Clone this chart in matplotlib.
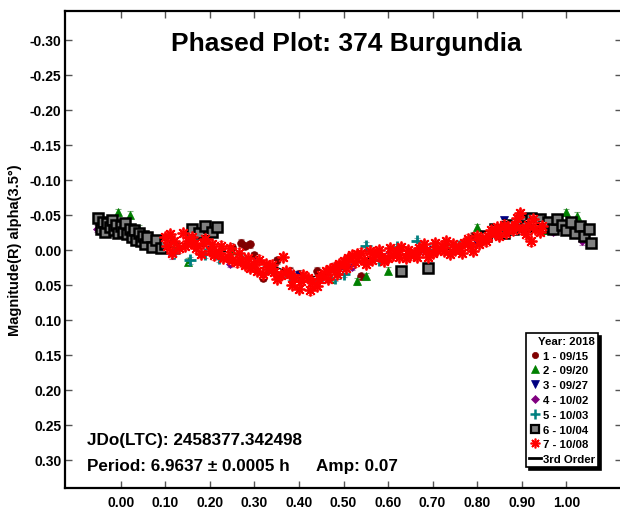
import matplotlib
matplotlib.use("Agg")
import matplotlib.pyplot as plt
from matplotlib.lines import Line2D

plt.rcParams['font.family'] = ['Liberation Sans', 'DejaVu Sans']
plt.rcParams['font.weight'] = 'bold'

# ---------------- data ----------------
x_ticks = [0.0, 0.1, 0.2, 0.3, 0.4, 0.5, 0.6, 0.7, 0.8, 0.9, 1.0]
x_labels = ["0.00", "0.10", "0.20", "0.30", "0.40", "0.50", "0.60", "0.70", "0.80", "0.90", "1.00"]
y_ticks = [-0.30, -0.25, -0.20, -0.15, -0.10, -0.05, 0.0, 0.05, 0.10, 0.15, 0.20, 0.25, 0.30]
y_labels = ["-0.30", "-0.25", "-0.20", "-0.15", "-0.10", "-0.05", "0.00", "0.05", "0.10", "0.15", "0.20", "0.25", "0.30"]

labels = ["1 - 09/15", "2 - 09/20", "3 - 09/27", "4 - 10/02", "5 - 10/03", "6 - 10/04", "7 - 10/08"]

# session 1 (09/15)
ph1 = [0.25, 0.27, 0.28, 0.29, 0.30, 0.32, 0.34, 0.35, 0.38, 0.40, 0.44, 0.48, 0.52, 0.54, 0.58, 0.62, 0.66, 0.70, 0.74, 0.79]
mg1 = [-0.004, -0.010, -0.006, -0.008, 0.008, 0.040, 0.024, 0.015, 0.030, 0.034, 0.030, 0.024, 0.020, 0.038, 0.010, 0.004, 0.006, -0.002, 0.002, -0.020]
# session 2 (09/20)
ph2 = [-0.03, -0.005, 0.02, 0.04, 0.08, 0.12, 0.15, 0.25, 0.33, 0.40, 0.47, 0.53, 0.55, 0.60, 0.73, 0.80, 0.85, 0.90, 0.95, 0.98, 1.00, 1.025, 1.04]
mg2 = [-0.036, -0.054, -0.050, -0.030, -0.014, -0.004, 0.017, 0.002, 0.028, 0.040, 0.042, 0.045, 0.038, 0.030, -0.009, -0.032, -0.020, -0.038, -0.028, -0.040, -0.054, -0.049, -0.032]
# session 3 (09/27)
ph3 = [-0.04, 0.00, 0.06, 0.10, 0.20, 0.30, 0.40, 0.50, 0.60, 0.70, 0.80, 0.86, 0.92, 0.98, 1.04]
mg3 = [-0.032, -0.028, -0.020, -0.010, 0.000, 0.018, 0.036, 0.030, 0.010, 0.000, -0.010, -0.042, -0.036, -0.032, -0.024]
# session 4 (10/02)
ph4 = [-0.053, -0.03, 0.006, 0.04, 0.08, 0.115, 0.18, 0.245, 0.30, 0.38, 0.45, 0.52, 0.60, 0.68, 0.75, 0.82, 0.90, 0.97, 1.02, 1.036]
mg4 = [-0.030, -0.026, -0.023, -0.026, -0.010, 0.008, 0.006, 0.020, 0.018, 0.034, 0.040, 0.024, 0.006, 0.002, -0.004, -0.016, -0.028, -0.026, -0.022, -0.012]
# session 5 (10/03)
ph5 = [0.03, 0.07, 0.12, 0.155, 0.19, 0.22, 0.27, 0.33, 0.38, 0.44, 0.48, 0.50, 0.55, 0.58, 0.62, 0.665, 0.70, 0.76, 0.84]
mg5 = [-0.020, -0.010, 0.004, 0.015, 0.006, 0.012, 0.012, 0.024, 0.038, 0.046, 0.040, 0.034, -0.006, 0.014, -0.004, -0.012, -0.002, -0.006, -0.024]
# session 6 (10/04)
ph6 = [-0.050, -0.045, -0.040, -0.035, -0.030, -0.025, -0.020, -0.015, -0.010, -0.005, 0.000, 0.005, 0.010, 0.015,
       0.020, 0.025, 0.030, 0.035, 0.040, 0.045, 0.050, 0.055, 0.060, 0.070, 0.080, 0.090, 0.100,
       0.160, 0.175, 0.190, 0.205, 0.215, 0.630, 0.690,
       0.820, 0.840, 0.860, 0.870, 0.880, 0.900, 0.910, 0.920, 0.930, 0.940, 0.950, 0.960, 0.970,
       0.980, 0.990, 1.000, 1.010, 1.020, 1.030, 1.040, 1.050, 1.055]
mg6 = [-0.046, -0.030, -0.040, -0.026, -0.038, -0.032, -0.042, -0.028, -0.036, -0.024, -0.034, -0.026, -0.038, -0.022,
       -0.030, -0.018, -0.028, -0.014, -0.024, -0.012, -0.020, -0.008, -0.018, -0.004, -0.014, -0.002, -0.008,
       -0.030, -0.024, -0.034, -0.026, -0.032, 0.030, 0.026,
       -0.020, -0.030, -0.024, -0.036, -0.030, -0.042, -0.034, -0.046, -0.038, -0.044, -0.032, -0.040, -0.030,
       -0.044, -0.036, -0.028, -0.040, -0.024, -0.034, -0.020, -0.030, -0.010]
# session 7 (10/08)
ph7 = [0.100, 0.105, 0.110, 0.115, 0.120, 0.130, 0.140, 0.145, 0.150, 0.160, 0.165, 0.170, 0.180, 0.185, 0.190,
       0.200, 0.205, 0.210, 0.220, 0.225, 0.230, 0.240, 0.245, 0.250, 0.260, 0.265, 0.270, 0.280, 0.285, 0.290,
       0.300, 0.305, 0.310, 0.320, 0.325, 0.330, 0.340, 0.345, 0.350, 0.360, 0.365, 0.370, 0.380, 0.385, 0.390,
       0.400, 0.405, 0.410, 0.420, 0.425, 0.430, 0.440, 0.445, 0.450, 0.460, 0.465, 0.470, 0.480, 0.485, 0.490,
       0.500, 0.505, 0.510, 0.520, 0.525, 0.530, 0.540, 0.545, 0.550, 0.560, 0.565, 0.570, 0.580, 0.585, 0.590,
       0.600, 0.605, 0.610, 0.620, 0.625, 0.630, 0.640, 0.645, 0.650, 0.660, 0.665, 0.670, 0.680, 0.685, 0.690,
       0.700, 0.705, 0.710, 0.720, 0.725, 0.730, 0.740, 0.745, 0.750, 0.760, 0.765, 0.770, 0.780, 0.785, 0.790,
       0.800, 0.805, 0.810, 0.820, 0.825, 0.830, 0.840, 0.845, 0.850, 0.860, 0.865, 0.870, 0.880, 0.885, 0.890,
       0.895, 0.900, 0.910, 0.915, 0.920, 0.925, 0.930, 0.940, 0.945]
mg7 = [-0.018, -0.006, -0.022, 0.004, -0.012, -0.002, -0.024, -0.006, -0.012, -0.018, -0.008, -0.002, 0.006, -0.010, -0.016,
       0.002, -0.008, 0.008, 0.004, -0.006, 0.012, 0.010, -0.002, 0.014, 0.018, 0.004, 0.016, 0.022, 0.012, 0.026,
       0.020, 0.030, 0.014, 0.034, 0.020, 0.028, 0.022, 0.032, 0.042, 0.036, 0.010, 0.030, 0.034, 0.050, 0.040,
       0.056, 0.044, 0.036, 0.040, 0.058, 0.046, 0.052, 0.042, 0.036, 0.030, 0.042, 0.028, 0.024, 0.034, 0.020,
       0.016, 0.026, 0.012, 0.008, 0.018, 0.006, 0.004, 0.014, 0.020, 0.002, 0.014, 0.006, 0.000, 0.010, 0.016,
       0.012, -0.002, 0.008, 0.002, 0.010, -0.004, 0.012, 0.000, 0.008, 0.004, 0.010, -0.002, -0.008, 0.002, 0.010,
       0.004, -0.010, 0.000, -0.006, 0.002, -0.012, 0.006, -0.008, 0.000, -0.004, 0.004, -0.010, -0.016, -0.006, 0.002,
       -0.020, -0.008, -0.016, -0.012, -0.020, -0.028, -0.024, -0.032, -0.020, -0.036, -0.024, -0.032, -0.028, -0.036, -0.046,
       -0.052, -0.030, -0.022, -0.036, -0.012, -0.044, -0.030, -0.026, -0.034]

err1, err2, err3, err4, err5, err6, err7 = 0.005, 0.005, 0.005, 0.005, 0.005, 0.006, 0.006

# 3rd order fit
fit_ph = [-0.05, 0.00, 0.05, 0.10, 0.15, 0.20, 0.25, 0.30, 0.35, 0.40, 0.45, 0.50, 0.55,
          0.60, 0.65, 0.70, 0.75, 0.80, 0.85, 0.90, 0.95, 1.00, 1.05]
fit_mg = [-0.034, -0.030, -0.020, -0.012, -0.008, -0.003, 0.005, 0.015, 0.025, 0.038, 0.038, 0.026, 0.013,
          0.008, 0.005, 0.002, -0.001, -0.009, -0.021, -0.032, -0.034, -0.030, -0.020]

title = "Phased Plot: 374 Burgundia"
ylabel = "Magnitude(R) alpha(3.5°)"
legend_title = "Year: 2018"
fit_label = "3rd Order"
jd_text = "JDo(LTC): 2458377.342498"
period_text = "Period: 6.9637 ± 0.0005 h"
amp_text = "Amp: 0.07"

# ---------------- figure ----------------
fig = plt.figure(figsize=(6.2, 5.1), dpi=100)
W, H = 620.0, 510.0
ax = fig.add_axes([65 / W, 21 / H, (622 - 65) / W, (489 - 12) / H])

markers = ['o', '^', 'v', 'D', '+', 's', (8, 2, 0)]
faces = ['#800000', '#008000', '#000080', '#800080', '#008080', '#808080', '#ff0000']
edges = ['#800000', '#008000', '#000080', '#800080', '#008080', 'black', '#ff0000']
plot_ms = [5.5, 6, 6, 4.5, 8, 6.5, 8.5]
plot_mew = [0.5, 0.5, 0.5, 0.5, 2.0, 1.8, 1.3]
leg_ms = [4.5, 5.5, 5.5, 4.2, 7, 5.2, 7]
leg_mew = [0.5, 0.5, 0.5, 0.5, 1.8, 1.6, 1.2]
ecols = ['#b08080', '#80b080', '#8080c0', '#b080b0', '#80b0b0', '#a0a0a0', '#ff8080']
series = [(ph1, mg1, err1), (ph2, mg2, err2), (ph3, mg3, err3), (ph4, mg4, err4),
          (ph5, mg5, err5), (ph6, mg6, err6), (ph7, mg7, err7)]

# fitted curve sits beneath the points
ax.plot(fit_ph, fit_mg, color='black', lw=1.0, zorder=1.5)

handles = []
for i, (px, py, e) in enumerate(series):
    ax.errorbar(px, py, yerr=e, fmt='none', ecolor=ecols[i], elinewidth=0.8, capsize=2, capthick=0.8, zorder=2 + i)
    ax.plot(px, py, linestyle='none', marker=markers[i], ms=plot_ms[i], mfc=faces[i], mec=edges[i],
            mew=plot_mew[i], zorder=3 + i)
    handles.append(Line2D([], [], linestyle='none', marker=markers[i], ms=leg_ms[i], mfc=faces[i],
                          mec=edges[i], mew=leg_mew[i], label=labels[i]))
handles.append(Line2D([], [], color='black', lw=2.0, label=fit_label))

ax.set_xlim(-0.125, 1.125)
ax.set_ylim(0.34, -0.341)
ax.set_xticks(x_ticks)
ax.set_xticklabels(x_labels)
ax.set_yticks(y_ticks)
ax.set_yticklabels(y_labels)
ax.tick_params(direction='in', length=5, width=1, color='#555555', top=True, right=True,
               labelsize=10)
ax.tick_params(axis='x', pad=5)
ax.tick_params(axis='y', pad=2.5)
for lab in ax.get_xticklabels() + ax.get_yticklabels():
    lab.set_fontweight('bold')
for sp in ax.spines.values():
    sp.set_linewidth(1.6)
    sp.set_color('black')

fig.text(346 / W, 1 - 44 / H, title, fontsize=19, fontweight='bold', ha='center', va='center')
fig.text(15 / W, 1 - 250 / H, ylabel, fontsize=10.5, fontweight='bold', rotation=90, ha='center', va='center')
fig.text(87 / W, 1 - 440 / H, jd_text, fontsize=12.3, fontweight='bold', ha='left', va='center')
fig.text(87 / W, 1 - 467 / H, period_text, fontsize=12.3, fontweight='bold', ha='left', va='center')
fig.text(316 / W, 1 - 467 / H, amp_text, fontsize=12.3, fontweight='bold', ha='left', va='center')

leg = ax.legend(handles=handles, loc='lower right', bbox_to_anchor=(0.957, 0.044), borderaxespad=0,
                title=legend_title, title_fontproperties={'weight': 'bold', 'size': 8.2},
                prop={'weight': 'bold', 'size': 8.2}, frameon=True, fancybox=False,
                edgecolor='black', framealpha=1, handlelength=1.05, handletextpad=0.2,
                labelspacing=0.42, borderpad=0.25, alignment='right',
                shadow={'facecolor': 'black', 'edgecolor': 'black', 'alpha': 1.0})
leg.get_frame().set_linewidth(1.2)
leg.set_zorder(20)

fig.savefig('out.png', dpi=100)
